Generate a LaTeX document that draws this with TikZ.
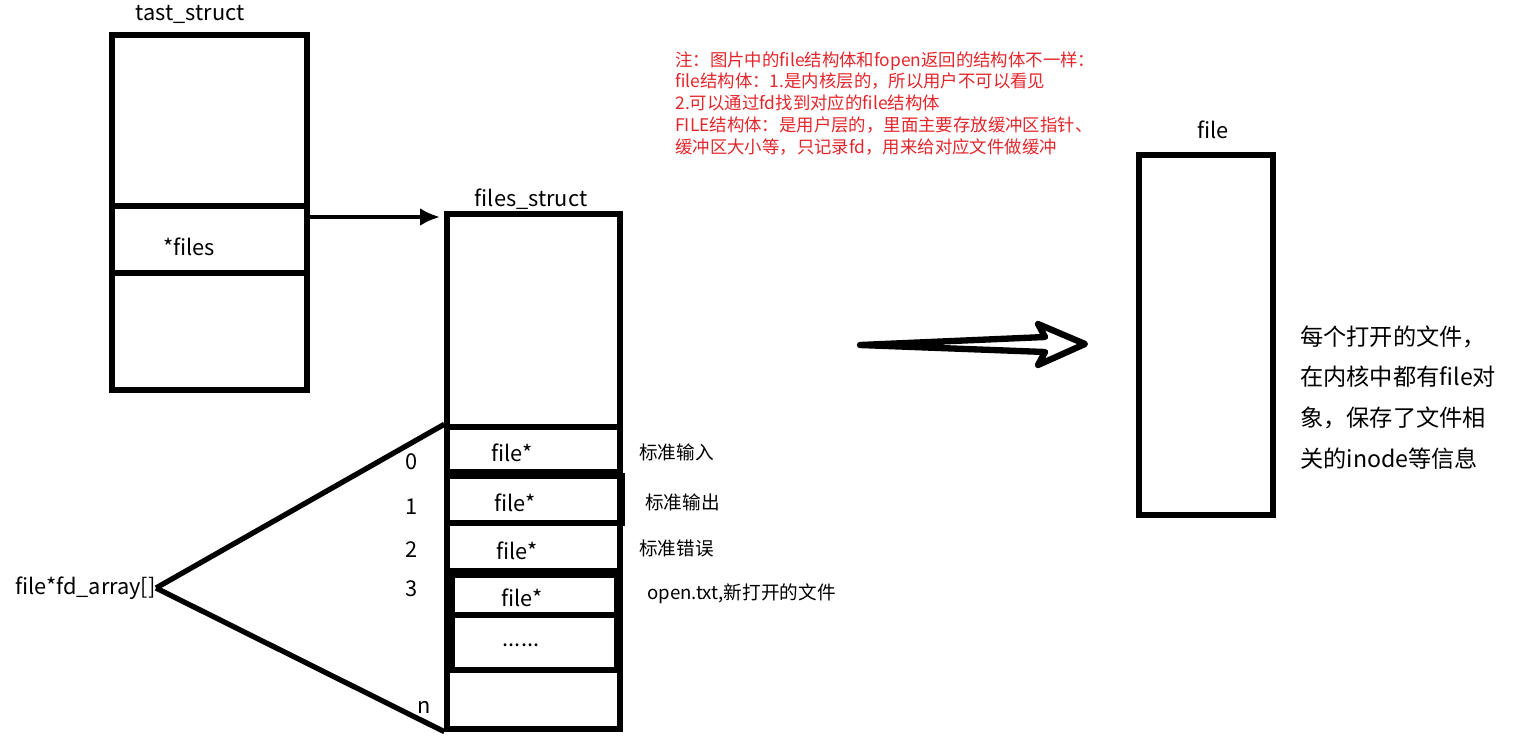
\documentclass[tikz,border=0pt]{standalone}
\usepackage{fontspec}
\setmainfont{Noto Sans CJK SC}
\usetikzlibrary{arrows.meta}
\definecolor{NoteRed}{HTML}{E3262B}

\begin{document}
\begin{tikzpicture}[x=0.02cm, y=-0.02cm,
  slot/.style={draw, line width=3.1pt, inner sep=0pt},
  tag/.style={inner sep=0pt, font=\fontsize{12.4}{14}\selectfont},
  side/.style={inner sep=0pt, anchor=west, font=\fontsize{10.6}{12}\selectfont},
  ptr/.style={-{Latex[length=4mm,width=3.6mm]}, line width=2.5pt},
  rib/.style={line width=3pt}
]
\useasboundingbox (0,0) rectangle (1537,740);

% task struct
\node[tag] (tname) at (190,14) {tast\_struct};
\node[slot, minimum width=3.9cm, minimum height=7.1cm] (tast) at (209.5,212.5) {};
\node[slot, minimum width=3.9cm, minimum height=1.34cm] (tfiles) at (209.5,239.5) {};
\node[tag] (tfilestxt) at (189,247) {*files};

% files struct
\node[tag] (fsname) at (531,199) {files\_struct};
\draw[densely dotted, line width=0.6pt] ([yshift=-1pt]fsname.south west) -- ([yshift=-1pt]fsname.south east);
\node[slot, minimum width=3.46cm, minimum height=10.3cm] (fs) at (533.5,471.5) {};
\node[slot, minimum width=3.46cm, minimum height=0.9cm] (row0) at (533.5,449.5) {};
\node[slot, minimum width=3.5cm, minimum height=0.94cm] (row1) at (534.5,499.5) {};
\node[slot, minimum width=3.46cm, minimum height=0.96cm] (row2) at (533.5,547) {};
\node[slot, minimum width=3.3cm, minimum height=0.8cm] (row3) at (534.5,595) {};
\node[slot, minimum width=3.3cm, minimum height=1.1cm] (rowd) at (534.5,642.5) {};
\node[slot, minimum width=3.46cm, minimum height=1.18cm] (rown) at (533.5,699.5) {};

\node[tag] (ptr0) at (512,453) {file*};
\node[tag] (ptr1) at (515,503) {file*};
\node[tag] (ptr2) at (517,551) {file*};
\node[tag] (ptr3) at (522,598) {file*};
\node[tag] (dots) at (521,645) {......};

\node[tag] (idx0) at (412,462) {0};
\node[tag] (idx1) at (412,507) {1};
\node[tag] (idx2) at (412,550) {2};
\node[tag] (idx3) at (412,589) {3};
\node[tag] (idxn) at (424,707) {n};

\node[side] (std0) at (639,452) {标准输入};
\node[side] (std1) at (645,502) {标准输出};
\node[side] (std2) at (639,548) {标准错误};
\node[side] (std3) at (647,594) {open.txt,新打开的文件};

% fd array
\node[tag, anchor=east] (fdarr) at (156,588) {file*fd\_array[]};
\draw[rib] (fdarr.east) -- (row0.north west);
\draw[rib] (fdarr.east) -- (fs.south west);

\coordinate (fsin) at (440,217);
\draw[ptr] (tfiles.east |- fsin) -- (fsin);

% note
\node[anchor=north west, inner sep=0pt, align=left, text=NoteRed,
      font=\fontsize{9.9}{12.5}\selectfont] (note) at (675,51)
  {注：图片中的file结构体和fopen返回的结构体不一样：\\
   file结构体：1.是内核层的，所以用户不可以看见\\
   2.可以通过fd找到对应的file结构体\\
   FILE结构体：是用户层的，里面主要存放缓冲区指针、\\
   缓冲区大小等，只记录fd，用来给对应文件做缓冲};

% file object
\node[tag] (fname) at (1213,130) {file};
\node[slot, minimum width=2.68cm, minimum height=7.2cm] (fobj) at (1206,335) {};
\node[anchor=north west, inner sep=0pt, align=left,
      font=\fontsize{13.2}{23.3}\selectfont] (fdesc) at (1300,325)
  {每个打开的文件，\\
   在内核中都有file对\\
   象，保存了文件相\\
   关的inode等信息};

% hollow arrow
\coordinate (hstart) at (860,345);
\coordinate (htip) at (1085,344);
\draw[line width=3.6pt, line join=round, line cap=round]
  (hstart) -- (1045,337) -- (1038,324) -- (htip) -- (1038,365) -- (1045,352) -- cycle;
\end{tikzpicture}
\end{document}
